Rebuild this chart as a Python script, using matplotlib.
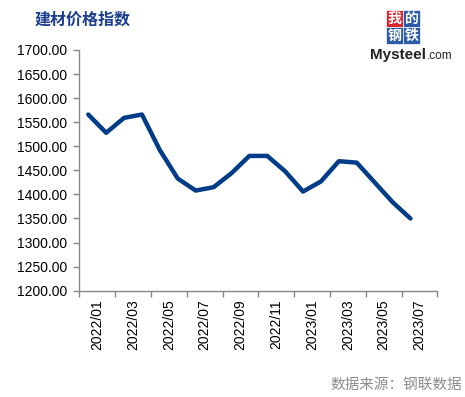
import matplotlib
matplotlib.use("Agg")
import matplotlib.pyplot as plt
from matplotlib.patches import Rectangle

plt.rcParams['font.family'] = ['Liberation Sans', 'Noto Sans CJK SC', 'DejaVu Sans']

categories = ["2022/01", "2022/02", "2022/03", "2022/04", "2022/05", "2022/06",
              "2022/07", "2022/08", "2022/09", "2022/10", "2022/11", "2022/12",
              "2023/01", "2023/02", "2023/03", "2023/04", "2023/05", "2023/06",
              "2023/07", "2023/08"]
values = [1566, 1528, 1559, 1566, 1492, 1433, 1408, 1415, 1444, 1480,
          1480, 1448, 1406, 1427, 1469, 1466, 1425, 1384, 1350]
yticks = [1200, 1250, 1300, 1350, 1400, 1450, 1500, 1550, 1600, 1650, 1700]
title = "建材价格指数"
source = "数据来源：钢联数据"

W, H = 465, 397
fig = plt.figure(figsize=(W / 100, H / 100), dpi=100)
ax = fig.add_axes([79.3 / W, 1 - 290.7 / H, (437.3 - 79.3) / W, (290.7 - 50) / H])

x = list(range(len(values)))
ax.plot(x, values, color='#003C87', lw=3.2, solid_capstyle='round', solid_joinstyle='round')

ax.set_xlim(-0.5, len(categories) - 0.5)
ax.set_ylim(1200, 1700)
ax.set_yticks(yticks)
ax.set_yticklabels([f"{v:.2f}" for v in yticks], fontsize=10)

# ticks at boundaries every 2 categories, labels centered between them
ax.set_xticks([i - 0.5 for i in range(0, len(categories) + 1, 2)])
ax.set_xticklabels([])
ax.set_xticks([i + 0.5 for i in range(0, len(categories), 2)], minor=True)
ax.set_xticklabels([categories[i] for i in range(0, len(categories), 2)],
                   minor=True, rotation=90, fontsize=10)
ax.tick_params(axis='x', which='minor', length=0, pad=6)
ax.tick_params(axis='x', which='major', length=4, color='#888888', width=1)
ax.tick_params(axis='y', length=4, color='#888888', width=1, pad=5)

for s in ['top', 'right']:
    ax.spines[s].set_visible(False)
for s in ['left', 'bottom']:
    ax.spines[s].set_color('#888888')
    ax.spines[s].set_linewidth(1)

fig.text(35 / W, 1 - 20 / H, title, fontsize=11.5, fontweight='bold', color='#1A3E8C',
         family=['Noto Sans CJK SC'], va='center', ha='left')

fig.text(462 / W, 1 - 385 / H, source, fontsize=10.5, color='#8C8C8C',
         family=['Noto Sans CJK SC'], va='center', ha='right')

# logo
sq = 17
x0, y0 = 386, 10
cells = [("我", '#D7262E', 0, 0), ("的", '#2B5BA8', 1, 0), ("钢", '#2B5BA8', 0, 1), ("铁", '#2B5BA8', 1, 1)]
for ch, col, cx, cy in cells:
    fig.patches.append(Rectangle(((x0 + cx * sq) / W, 1 - (y0 + (cy + 1) * sq) / H), sq / W, sq / H,
                                 transform=fig.transFigure, facecolor=col, edgecolor='white', lw=0.5))
    fig.text((x0 + cx * sq + sq / 2) / W, 1 - (y0 + cy * sq + sq / 2) / H, ch, color='white',
             fontsize=10, fontweight='bold', family=['Noto Sans CJK SC'], ha='center', va='center')
fig.text(370 / W, 1 - 55 / H, "Mysteel", fontsize=11, fontweight='bold', color='#222222',
         ha='left', va='center')
fig.text(427 / W, 1 - 56 / H, ".com", fontsize=8.5, color='#222222', ha='left', va='center')

fig.savefig("out.png", dpi=100)
